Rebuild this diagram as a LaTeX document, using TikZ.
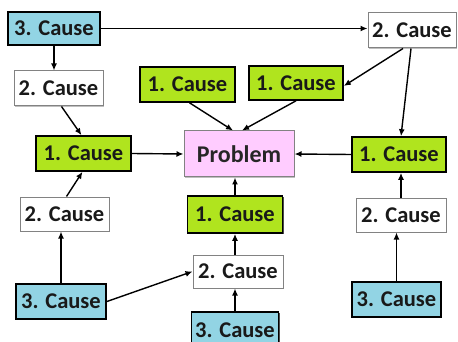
\documentclass[tikz,border=0pt]{standalone}
\usepackage{fontspec}
\setmainfont{Carlito}
\usetikzlibrary{arrows.meta,shadows}
\definecolor{causegreen}{RGB}{176,228,30}
\definecolor{causeblue}{RGB}{146,212,228}
\definecolor{probpink}{RGB}{255,204,255}
\definecolor{lightframe}{RGB}{130,130,130}
\tikzset{
  box/.style={rectangle, inner sep=0pt, font=\fontsize{22.5}{24}\selectfont\bfseries, text=black!90},
  first/.style={box, fill=causegreen, draw=black, line width=1.6pt,
    drop shadow={shadow xshift=1.3pt, shadow yshift=-1.3pt, fill=black, opacity=0.7}},
  second/.style={box, fill=white, draw=lightframe, line width=1pt,
    drop shadow={shadow xshift=1pt, shadow yshift=-1pt, fill=black, opacity=0.25}},
  third/.style={box, fill=causeblue, draw=black, line width=1.8pt,
    drop shadow={shadow xshift=1.3pt, shadow yshift=-1.3pt, fill=black, opacity=0.7}},
  problem/.style={rectangle, inner sep=0pt, fill=probpink, draw=lightframe, line width=1pt,
    font=\fontsize{24}{26}\selectfont\bfseries, text=black!85,
    drop shadow={shadow xshift=1pt, shadow yshift=-1pt, fill=black, opacity=0.25}},
  link/.style={line width=1.4pt, -{Latex[length=7pt,width=6pt]}}
}
\begin{document}
\begin{tikzpicture}[x=1pt,y=-1pt]
\useasboundingbox (0,0) rectangle (458,342);
\begin{scope}
\clip (0,0) rectangle (458,342);
% central problem
\node[problem, minimum width=110pt, minimum height=46pt] (prob) at (239,154) {Problem};
% first-level causes
\node[first, minimum width=95pt, minimum height=35pt] (c1a) at (83.5,153.5) {1. Cause};
\node[first, minimum width=95pt, minimum height=35pt] (c1b) at (187.5,84.5) {1. Cause};
\node[first, minimum width=94pt, minimum height=34pt] (c1c) at (296,83) {1. Cause};
\node[first, minimum width=94pt, minimum height=35pt] (c1d) at (399,154.5) {1. Cause};
\node[first, minimum width=95pt, minimum height=37pt] (c1e) at (235,214.5) {1. Cause};
% second-level causes
\node[second, minimum width=89pt, minimum height=35pt] (c2a) at (58.5,88.5) {2. Cause};
\node[second, minimum width=88pt, minimum height=35pt] (c2b) at (412,30.5) {2. Cause};
\node[second, minimum width=89pt, minimum height=34pt] (c2c) at (64.5,214) {2. Cause};
\node[second, minimum width=90pt, minimum height=33pt] (c2m) at (238,271.5) {2. Cause};
\node[second, minimum width=90pt, minimum height=34pt] (c2d) at (401,215) {2. Cause};
% third-level causes
\node[third, minimum width=92pt, minimum height=33pt] (c3a) at (54,28.5) {3. Cause};
\node[third, minimum width=90pt, minimum height=35pt] (c3b) at (61,301.5) {3. Cause};
\node[third, minimum width=87pt, minimum height=36pt] (c3m) at (235,330) {3. Cause};
\node[third, minimum width=89pt, minimum height=35pt] (c3c) at (396.5,299.5) {3. Cause};
\end{scope}
% connectors, upper left
\draw[link] (c3a.east) -- (c3a.east -| c2b.west);
\draw[link] (c3a.south) -- (c3a.south |- c2a.north);
\draw[link] ([xshift=3pt]c2a.south) -- ([xshift=-2pt]c1a.north);
\draw[link] (c1a.east) -- (prob.west);
% into the problem from above
\draw[link] ([xshift=2pt]c1b.south) -- ([xshift=-6pt]prob.north);
\draw[link] (c1c.south) -- ([xshift=3pt]prob.north);
% upper right
\draw[link] ([xshift=-9pt]c2b.south) -- ([yshift=-3pt]c1c.east);
\draw[link] ([xshift=-1pt]c2b.south) -- ([xshift=2pt]c1d.north);
\draw[link] (c1d.west) -- (prob.east);
% lower left
\draw[link] ([xshift=2pt]c2c.north) -- ([xshift=-1pt]c1a.south);
\draw[link] (c3b.north) -- (c3b.north |- c2c.south);
\draw[link] (c3b.east) -- (c2m.west);
% centre column
\draw[link] (c1e.north) -- (c1e.north |- prob.south);
\draw[link] (c2m.north -| c1e.south) -- (c1e.south);
\draw[link] (c3m.north) -- (c3m.north |- c2m.south);
% lower right
\draw[link] (c2d.north) -- (c2d.north |- c1d.south);
\draw[link] (c3c.north) -- (c3c.north |- c2d.south);
\end{tikzpicture}
\end{document}
